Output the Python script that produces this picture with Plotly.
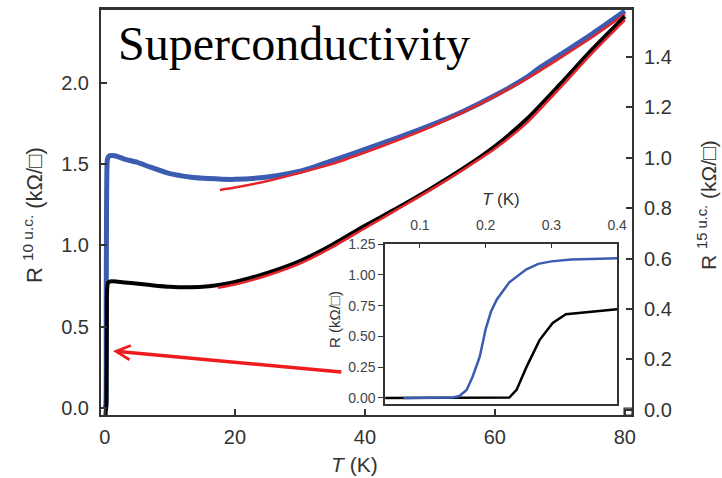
import plotly.graph_objects as go

# ---- main panel data ----
# 10 u.c. sample (left axis)
T_blue = [0.05, 0.15, 0.2, 0.25, 0.3, 0.4, 0.7, 1.5, 3, 5, 7, 10, 13, 16, 20, 25, 30, 35, 40,
          45, 50, 55, 60, 65, 66.5, 70, 75, 80]
R_blue = [0.0, 0.02, 0.6, 1.2, 1.45, 1.53, 1.55, 1.55, 1.53, 1.51, 1.48, 1.44, 1.42, 1.41, 1.405,
          1.42, 1.455, 1.52, 1.59, 1.66, 1.735, 1.82, 1.92, 2.035, 2.08, 2.17, 2.30, 2.44]
# fit to 10 u.c. (left axis)
T_fit10 = [17.7, 20, 25, 30, 35, 40, 45, 50, 55, 60, 65, 70, 75, 80]
R_fit10 = [1.34, 1.355, 1.395, 1.445, 1.50, 1.57, 1.645, 1.725, 1.815, 1.915, 2.025, 2.15, 2.28, 2.42]

# 15 u.c. sample (right axis)
T_black = [0.1, 0.15, 0.2, 0.25, 0.3, 0.35, 0.5, 1, 2, 4, 7, 10, 13, 16, 18, 20, 25, 30, 35, 40,
           45, 50, 55, 60, 65, 70, 75, 80]
R_black = [-0.02, 0.0, 0.0, 0.1, 0.35, 0.48, 0.505, 0.51, 0.508, 0.503, 0.495, 0.488, 0.486, 0.49,
           0.497, 0.507, 0.543, 0.59, 0.655, 0.73, 0.80, 0.875, 0.955, 1.045, 1.155, 1.29, 1.43, 1.56]
# fit to 15 u.c. (right axis)
T_fit15 = [17.4, 20, 25, 30, 35, 40, 45, 50, 55, 60, 65, 70, 75, 80]
R_fit15 = [0.484, 0.497, 0.533, 0.58, 0.645, 0.72, 0.795, 0.87, 0.95, 1.035, 1.14, 1.275, 1.415, 1.545]

# ---- inset data ----
Ti_blue = [0.075, 0.1, 0.14, 0.15, 0.16, 0.171, 0.18, 0.191, 0.2, 0.208, 0.217, 0.236, 0.262,
           0.28, 0.30, 0.33, 0.36, 0.4]
Ri_blue = [0.0, 0.0, 0.0, 0.003, 0.015, 0.065, 0.17, 0.335, 0.56, 0.70, 0.80, 0.94, 1.046,
           1.09, 1.11, 1.125, 1.13, 1.135]
Ti_black = [0.047, 0.1, 0.2, 0.236, 0.247, 0.262, 0.282, 0.302, 0.322, 0.362, 0.4]
Ri_black = [0.0, 0.0, 0.0, 0.003, 0.065, 0.25, 0.47, 0.61, 0.68, 0.70, 0.72]

main_x_ticks = [0, 20, 40, 60, 80]
left_y_ticks = [0.0, 0.5, 1.0, 1.5, 2.0]
right_y_ticks = [0.0, 0.2, 0.4, 0.6, 0.8, 1.0, 1.2, 1.4]
inset_x_ticks = [0.1, 0.2, 0.3, 0.4]
inset_y_ticks = [0.0, 0.25, 0.5, 0.75, 1.0, 1.25]

BLUE = "#3b5cb0"
RED = "#e3262c"
AX = "#333333"
SANS = "Liberation Sans, Arial, sans-serif"

fig = go.Figure()
fig.add_trace(go.Scatter(x=T_blue, y=R_blue, mode="lines", line=dict(color=BLUE, width=5, shape="spline", smoothing=0.6),
                         xaxis="x", yaxis="y", showlegend=False))
fig.add_trace(go.Scatter(x=T_black, y=R_black, mode="lines", line=dict(color="black", width=4, shape="spline", smoothing=0.6),
                         xaxis="x", yaxis="y2", showlegend=False))
fig.add_trace(go.Scatter(x=T_fit10, y=R_fit10, mode="lines", line=dict(color=RED, width=2.5, shape="spline", smoothing=0.6),
                         xaxis="x", yaxis="y", showlegend=False))
fig.add_trace(go.Scatter(x=T_fit15, y=R_fit15, mode="lines", line=dict(color=RED, width=2.5, shape="spline", smoothing=0.6),
                         xaxis="x", yaxis="y2", showlegend=False))
fig.add_trace(go.Scatter(x=Ti_black, y=Ri_black, mode="lines", line=dict(color="black", width=2.5),
                         xaxis="x3", yaxis="y3", showlegend=False))
fig.add_trace(go.Scatter(x=Ti_blue, y=Ri_blue, mode="lines", line=dict(color=BLUE, width=2.5),
                         xaxis="x3", yaxis="y3", showlegend=False))

tickfont = dict(family=SANS, size=20, color=AX)
common = dict(showgrid=False, zeroline=False, showline=True, linecolor=AX, linewidth=2,
              ticks="inside", ticklen=6, tickwidth=1.5, tickcolor=AX, tickfont=tickfont,
              automargin=False)

fig.update_layout(
    width=722, height=478,
    margin=dict(l=101, r=90, t=9, b=63, autoexpand=False),
    paper_bgcolor="white", plot_bgcolor="rgba(0,0,0,0)",
    xaxis=dict(domain=[0, 1], range=[-0.6, 81.1], tickvals=main_x_ticks, mirror=True,
               anchor="y", ticklabelstandoff=3, **common),
    yaxis=dict(range=[-0.043, 2.452], tickvals=left_y_ticks, tickformat=".1f",
               ticklabelstandoff=6, **common),
    yaxis2=dict(range=[-0.02, 1.589], tickvals=right_y_ticks, tickformat=".1f", overlaying="y",
                side="right", anchor="x", ticklabelstandoff=6, **common),
    xaxis3=dict(domain=[0.535, 0.972], range=[0.047, 0.4], tickvals=inset_x_ticks,
                tickformat=".1f", side="top", anchor="y3", showgrid=False, zeroline=False,
                showline=True, linecolor=AX, linewidth=1.5, mirror=True, ticks="inside",
                ticklen=4, tickwidth=1.2, tickcolor=AX, ticklabelstandoff=6, automargin=False,
                tickfont=dict(family=SANS, size=14, color="#444")),
    yaxis3=dict(domain=[0.027, 0.4217], range=[-0.05, 1.253], tickvals=inset_y_ticks,
                tickformat=".2f", anchor="x3", showgrid=False, zeroline=False,
                showline=True, linecolor=AX, linewidth=1.5, mirror=True, ticks="outside",
                ticklen=5, tickwidth=1.2, tickcolor=AX, automargin=False,
                tickfont=dict(family=SANS, size=14, color="#444")),
)

# inset background
fig.add_shape(type="rect", xref="x3 domain", yref="y3 domain", x0=0, x1=1, y0=0, y1=1,
              fillcolor="white", line=dict(width=0), layer="below")
# top frame line of the main panel
fig.add_shape(type="line", xref="paper", yref="paper", x0=0, x1=1, y0=1, y1=1,
              line=dict(color=AX, width=2))
# small square at bottom-right corner
fig.add_shape(type="rect", xref="paper", yref="paper", x0=0.985, x1=1.0, y0=0.0, y1=0.017,
              line=dict(color=AX, width=1.2), fillcolor="rgba(0,0,0,0)")

ann = []
ann.append(dict(text="Superconductivity", xref="paper", yref="paper", x=0.028, y=0.915,
                xanchor="left", yanchor="middle", showarrow=False,
                font=dict(family="Liberation Serif, Times New Roman, serif", size=48, color="black")))
ann.append(dict(text="<i>T</i> (K)", xref="paper", yref="paper", x=0.478, y=-0.123,
                xanchor="center", yanchor="middle",
                showarrow=False, font=dict(family=SANS, size=21, color=AX)))
ann.append(dict(text="R <sup>10 u.c.</sup> (kΩ/□)", xref="paper", yref="paper", x=-0.128, y=0.4926,
                xanchor="center", yanchor="middle",
                textangle=-90, showarrow=False, font=dict(family=SANS, size=22, color=AX)))
ann.append(dict(text="R <sup>15 u.c.</sup> (kΩ/□)", xref="paper", yref="paper", x=1.141, y=0.517,
                xanchor="center", yanchor="middle",
                textangle=-90, showarrow=False, font=dict(family=SANS, size=21, color=AX)))
ann.append(dict(text="<i>T</i> (K)", xref="paper", yref="paper", x=0.753, y=0.5296,
                xanchor="center", yanchor="middle",
                showarrow=False, font=dict(family=SANS, size=17, color=AX)))
ann.append(dict(text="R (kΩ/□)", xref="paper", yref="paper", x=0.4407, y=0.234,
                xanchor="center", yanchor="middle",
                textangle=-90, showarrow=False, font=dict(family=SANS, size=15, color=AX)))
# red arrow
ann.append(dict(text="", x=1.23, y=0.35, xref="x", yref="y", ax=36.6, ay=0.22, axref="x", ayref="y",
                showarrow=True, arrowhead=5, arrowsize=0.8, arrowwidth=3.5, arrowcolor="#ee1c1c",
                standoff=0))
fig.update_layout(annotations=ann)

fig.write_html("out.html", config={"displayModeBar": False},
               post_script="document.body.style.margin='0';document.body.style.overflow='hidden';")
